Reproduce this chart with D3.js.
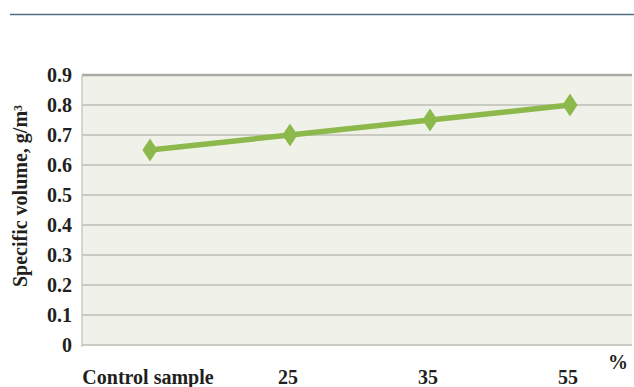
<!DOCTYPE html>
<html>
<head>
<meta charset="utf-8">
<script src="https://cdn.jsdelivr.net/npm/d3@7"></script>
<style>
  body { margin: 0; background: #fff; }
  svg { display: block; }
</style>
</head>
<body>
<svg id="chart"></svg>
<script>
var categories = ["Control sample", "25", "35", "55"];
var values = [0.65, 0.70, 0.75, 0.80];
var yTicks = [0, 0.1, 0.2, 0.3, 0.4, 0.5, 0.6, 0.7, 0.8, 0.9];

var width = 634, height = 387;
var plotLeft = 82, plotRight = 632, plotTop = 75, plotBottom = 345;
var serif = "Liberation Serif, Times New Roman, serif";

var svg = d3.select("#chart").attr("width", width).attr("height", height);

// header rule
svg.append("line")
  .attr("x1", 10).attr("x2", 634)
  .attr("y1", 14.5).attr("y2", 14.5)
  .attr("stroke", "#4f6f7e")
  .attr("stroke-width", 1.5);

var x = d3.scaleBand().domain(categories).range([80, 640]);
var y = d3.scaleLinear().domain([0, 0.9]).range([plotBottom, plotTop]);

function cx(d) { return x(d) + x.bandwidth() / 2; }

svg.append("rect")
  .attr("x", plotLeft).attr("y", plotTop)
  .attr("width", plotRight - plotLeft).attr("height", plotBottom - plotTop)
  .attr("fill", "#f0f2e9");

svg.append("g")
  .selectAll("line")
  .data(yTicks)
  .enter()
  .append("line")
  .attr("x1", plotLeft).attr("x2", plotRight)
  .attr("y1", function (d) { return y(d); })
  .attr("y2", function (d) { return y(d); })
  .attr("stroke", function (d) { return d === 0.9 ? "#a9aaa4" : "#bcbdb6"; })
  .attr("stroke-width", function (d) { return d === 0.9 ? 2.5 : 1.5; });

svg.append("line")
  .attr("x1", plotLeft).attr("x2", plotLeft)
  .attr("y1", plotTop).attr("y2", plotBottom + 2)
  .attr("stroke", "#c8c9c2")
  .attr("stroke-width", 1.5);

svg.append("g")
  .selectAll("text")
  .data(yTicks)
  .enter()
  .append("text")
  .attr("x", 72)
  .attr("y", function (d) { return y(d); })
  .attr("dy", "0.35em")
  .attr("text-anchor", "end")
  .style("font-family", serif)
  .style("font-weight", "bold")
  .style("font-size", "20px")
  .style("fill", "#231f20")
  .text(function (d) { return d === 0 ? "0" : d3.format(".1f")(d); });

svg.append("g")
  .selectAll("text")
  .data(categories)
  .enter()
  .append("text")
  .attr("x", function (d) { return cx(d) - 2; })
  .attr("y", 384)
  .attr("text-anchor", "middle")
  .style("font-family", serif)
  .style("font-weight", "bold")
  .style("font-size", "20px")
  .style("fill", "#231f20")
  .text(function (d) { return d; });

svg.append("text")
  .attr("x", 618).attr("y", 369)
  .attr("text-anchor", "middle")
  .style("font-family", serif)
  .style("font-weight", "bold")
  .style("font-size", "20px")
  .style("fill", "#231f20")
  .text("%");

var title = svg.append("text")
  .attr("transform", "translate(27,196)rotate(-90)")
  .attr("text-anchor", "middle")
  .style("font-family", serif)
  .style("font-weight", "bold")
  .style("font-size", "20px")
  .style("fill", "#231f20");
title.append("tspan").text("Specific volume, g/m");
title.append("tspan").attr("dy", "-0.45em").style("font-size", "12px").text("3");

var line = d3.line()
  .x(function (d, i) { return cx(categories[i]); })
  .y(function (d) { return y(d); });

svg.append("path")
  .datum(values)
  .attr("d", line)
  .attr("fill", "none")
  .attr("stroke", "#8cb84c")
  .attr("stroke-width", 5.5)
  .attr("stroke-linejoin", "round");

svg.append("g")
  .selectAll("path")
  .data(values)
  .enter()
  .append("path")
  .attr("d", d3.symbol().type(d3.symbolDiamond).size(150))
  .attr("transform", function (d, i) {
    return "translate(" + cx(categories[i]) + "," + y(d) + ")scale(1.15,1)";
  })
  .attr("fill", "#8cb84c");
</script>
</body>
</html>
